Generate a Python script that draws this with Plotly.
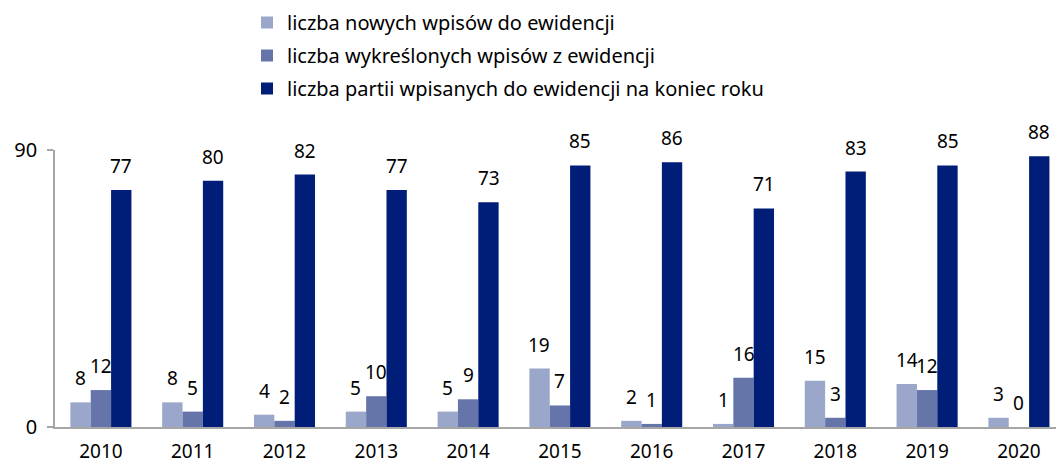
import plotly.graph_objects as go

years = ["2010", "2011", "2012", "2013", "2014", "2015", "2016", "2017", "2018", "2019", "2020"]
nowe = [8, 8, 4, 5, 5, 19, 2, 1, 15, 14, 3]
wykreslone = [12, 5, 2, 10, 9, 7, 1, 16, 3, 12, 0]
koniec = [77, 80, 82, 77, 73, 85, 86, 71, 83, 85, 88]

names = [
    "liczba nowych wpisów do ewidencji",
    "liczba wykreślonych wpisów z ewidencji",
    "liczba partii wpisanych do ewidencji na koniec roku",
]
colors = ["#9aa6ca", "#6675a9", "#001d78"]
series = [nowe, wykreslone, koniec]
offsets = [-20.5, 0, 20.5]

FONT = "Noto Sans"

fig = go.Figure()
for i, (nm, vals, col) in enumerate(zip(names, series, colors)):
    fig.add_trace(go.Bar(
        x=years, y=vals, name=nm, marker=dict(color=col, line=dict(width=0)),
        legendgroup=str(i),
    ))
    for idx, v in enumerate(vals):
        fig.add_annotation(
            x=idx, y=v, xref="x", yref="y", text=str(v), showarrow=False,
            xshift=offsets[i], yshift=24, yanchor="middle",
            font=dict(family=FONT, size=19, color="#000000"),
        )

fig.update_layout(
    width=1056, height=466,
    margin=dict(l=55, r=0, t=150, b=39, autoexpand=False),
    paper_bgcolor="white", plot_bgcolor="white",
    barmode="group", bargap=0.335, bargroupgap=0,
    font=dict(family=FONT, size=18, color="#000000"),
    showlegend=True,
    legend=dict(
        xref="container", yref="container", x=247 / 1056, y=1 - 3 / 466,
        xanchor="left", yanchor="top", orientation="v",
        font=dict(family=FONT, size=20, color="#000000"),
        tracegroupgap=4, itemwidth=30, bgcolor="rgba(0,0,0,0)",
        traceorder="grouped",
    ),
    xaxis=dict(
        type="category", range=[-0.5, 10.404], showgrid=False, zeroline=False,
        showline=True, linecolor="#a6a6a6", linewidth=1.5,
        ticks="", tickfont=dict(family=FONT, size=19, color="#000000"),
        tickangle=0, ticklabelstandoff=6, fixedrange=True,
    ),
    yaxis=dict(
        range=[0, 90], tickvals=[0, 90], ticktext=["0", "90"],
        showgrid=False, zeroline=False, showline=True,
        linecolor="#a6a6a6", linewidth=1.5, ticks="outside", ticklen=6,
        tickcolor="#a6a6a6", tickwidth=1.5, ticklabelstandoff=6,
        tickfont=dict(family=FONT, size=20, color="#000000"),
        fixedrange=True,
    ),
)

fig.write_html("out.html")
